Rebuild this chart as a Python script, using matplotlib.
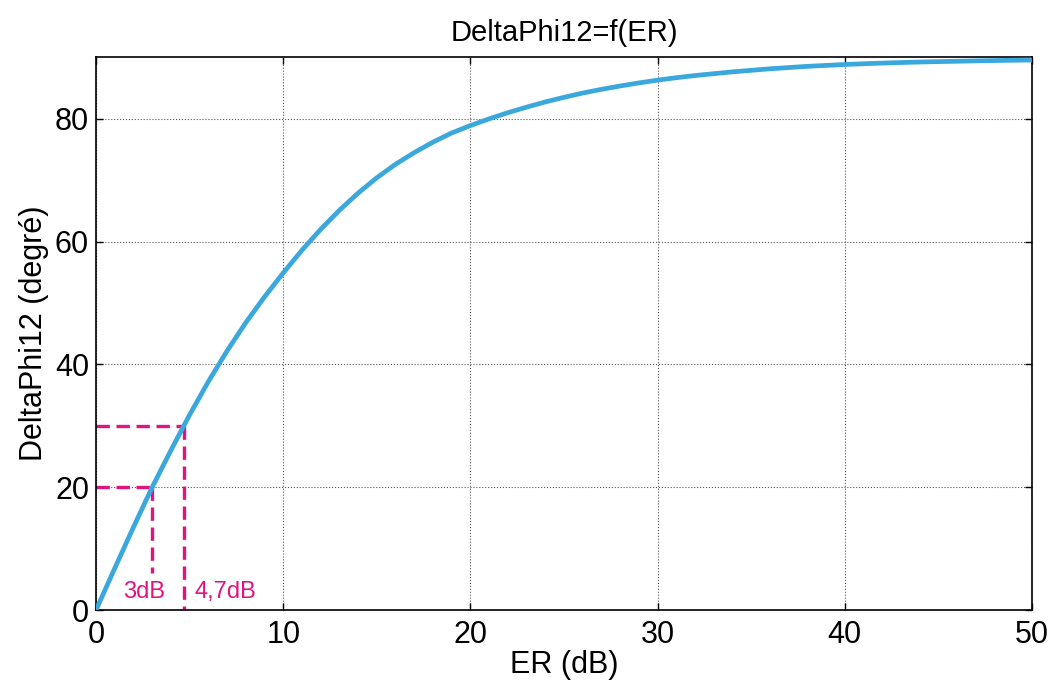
import matplotlib
matplotlib.use("Agg")
import matplotlib.pyplot as plt

plt.rcParams['font.family'] = ['Liberation Sans', 'DejaVu Sans']

er_db = list(range(0, 51))
delta_phi = [0.0, 6.8, 13.5, 20.0, 26.0, 31.8, 37.2, 42.2, 46.8, 51.0,
             54.9, 58.6, 62.0, 65.1, 67.9, 70.4, 72.6, 74.5, 76.2, 77.7,
             78.9, 80.0, 81.0, 81.9, 82.75, 83.5, 84.2, 84.8, 85.35, 85.85,
             86.3, 86.7, 87.05, 87.35, 87.65, 87.9, 88.15, 88.35, 88.55, 88.7,
             88.85, 88.97, 89.08, 89.17, 89.25, 89.32, 89.38, 89.44, 89.49, 89.54,
             89.58]

marks_er = [3.0, 4.7]
marks_phi = [20.0, 30.0]
marks_bottom = [6.0, 0.0]
mark_labels = ['3dB', '4,7dB']

title = 'DeltaPhi12=f(ER)'
xlabel = 'ER (dB)'
ylabel = 'DeltaPhi12 (degré)'
xticks = [0, 10, 20, 30, 40, 50]
yticks = [0, 20, 40, 60, 80]

blue = '#3AA8DC'
pink = '#E0147F'

fig = plt.figure(figsize=(10.54, 6.87), dpi=100)
ax = fig.add_axes([0.0911, 0.112, 0.979 - 0.0911, 0.9164 - 0.112])

ax.plot(er_db, delta_phi, color=blue, lw=3.4, zorder=3, solid_capstyle='butt')

for xm, ym, yb in zip(marks_er, marks_phi, marks_bottom):
    ax.plot([0, xm], [ym, ym], color=pink, lw=2.4, ls=(0, (4, 2)), zorder=2)
    ax.plot([xm, xm], [ym, yb], color=pink, lw=2.4, ls=(0, (4, 2)), zorder=2)

ax.text(2.55, 2.9, mark_labels[0], color=pink, fontsize=17, ha='center', va='center')
ax.text(5.25, 2.9, mark_labels[1], color=pink, fontsize=17, ha='left', va='center')

ax.set_xlim(0, 50)
ax.set_ylim(0, 90)
ax.set_xticks(xticks)
ax.set_yticks(yticks)
ax.tick_params(direction='in', top=True, right=True, length=5, width=1, labelsize=22)
ax.tick_params(axis='x', pad=7)
ax.tick_params(axis='y', pad=5)
ax.grid(True, ls=':', color='#555555', lw=0.8)
for s in ax.spines.values():
    s.set_linewidth(1.2)

ax.set_title(title, fontsize=21, pad=12)
ax.set_xlabel(xlabel, fontsize=22, labelpad=0)
ax.set_ylabel(ylabel, fontsize=22, labelpad=4)

fig.savefig('out.png', dpi=100)
